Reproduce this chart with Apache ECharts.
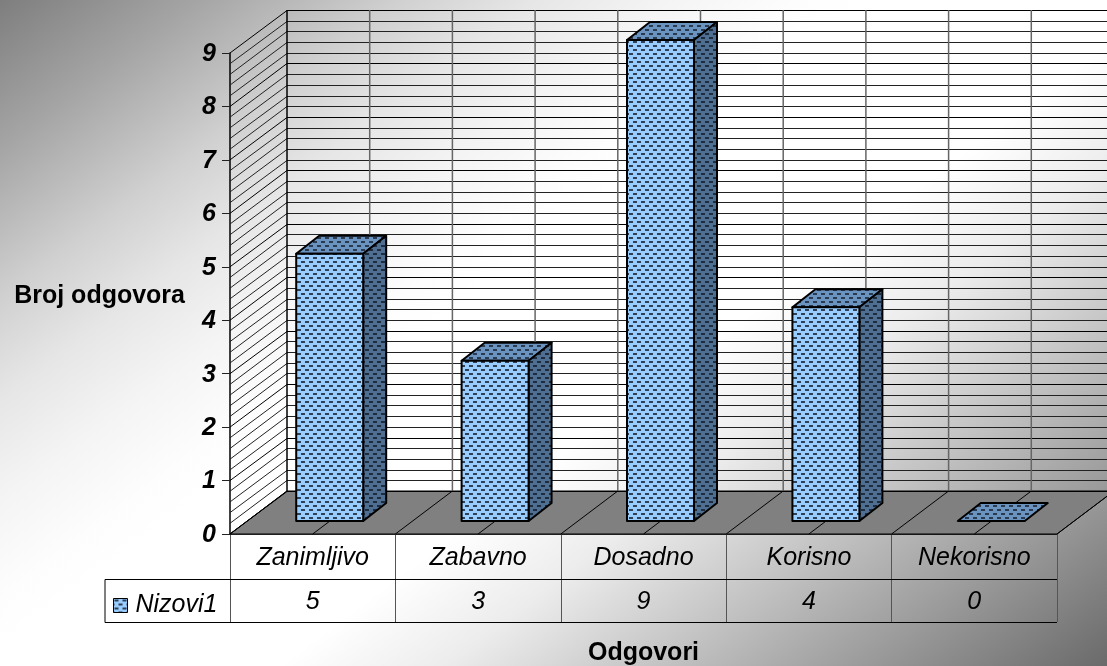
<!DOCTYPE html>
<html>
<head>
<meta charset="utf-8">
<style>html,body{margin:0;padding:0;background:#fff}#main{width:1107px;height:666px}</style>
<script src="https://cdn.jsdelivr.net/npm/echarts@6/dist/echarts.min.js"></script>
</head>
<body>
<div id="main"></div>
<script>
var categories = ['Zanimljivo', 'Zabavno', 'Dosadno', 'Korisno', 'Nekorisno'];
var seriesName = 'Nizovi1';
var seriesValues = [5, 3, 9, 4, 0];
var wallSteps = [0, 0.2, 0.4, 0.6, 0.8, 1, 1.2, 1.4, 1.6, 1.8, 2, 2.2, 2.4, 2.6, 2.8, 3, 3.2, 3.4, 3.6, 3.8, 4, 4.2, 4.4, 4.6, 4.8, 5, 5.2, 5.4, 5.6, 5.8, 6, 6.2, 6.4, 6.6, 6.8, 7, 7.2, 7.4, 7.6, 7.8, 8, 8.2, 8.4, 8.6, 8.8, 9];
var floorSteps = [0, 0.5, 1, 1.5, 2, 2.5, 3, 3.5, 4, 4.5, 5];

// depth of the fake 3d box, in px
var depthX = 57, depthY = -43;
var barFrontX = 17, barFrontY = -13, barBackX = 40, barBackY = -31;
var rowOne = 45, rowTwo = 88, legendLeft = 105;

function dots(bg, dot) {
	var c = document.createElement('canvas');
	c.width = 8; c.height = 8;
	var g = c.getContext('2d');
	g.fillStyle = bg;
	g.fillRect(0, 0, 8, 8);
	g.fillStyle = dot;
	g.fillRect(1, 1, 4, 2);
	g.fillRect(5, 5, 3, 2);
	g.fillRect(0, 5, 1, 2);
	return { image: c, repeat: 'repeat' };
}
var frontFill = dots('#99ccff', '#2f3f55');
var topFill = dots('#6b93c0', '#2a3a50');
var sideFill = dots('#4f6f92', '#1f2c3e');

function line(x1, y1, x2, y2, color, width) {
	return { type: 'line', shape: { x1: x1, y1: y1, x2: x2, y2: y2 }, style: { stroke: color, lineWidth: width } };
}
function poly(pts, fill) {
	return { type: 'polygon', shape: { points: pts }, style: { fill: fill, stroke: '#000', lineWidth: 2, lineJoin: 'round' } };
}
// left edge of the category band k (k can be a fraction), category axis rounds its values
function bandX(api, k) {
	return api.coord([0, 0])[0] + (k - 0.5) * api.size([1, 0])[0];
}

var myChart = echarts.init(document.getElementById('main'), null, { renderer: 'canvas' });
myChart.setOption({
	animation: false,
	backgroundColor: new echarts.graphic.LinearGradient(0, 0, 718, 958, [
		{ offset: 0, color: '#7e7e7e' },
		{ offset: 0.1, color: '#a5a5a5' },
		{ offset: 0.2, color: '#d0d0d0' },
		{ offset: 0.267, color: '#e6e6e6' },
		{ offset: 0.334, color: '#f4f4f4' },
		{ offset: 0.4, color: '#fdfdfd' },
		{ offset: 0.434, color: '#ffffff' },
		{ offset: 0.585, color: '#ffffff' },
		{ offset: 0.668, color: '#ececec' },
		{ offset: 0.782, color: '#c0c0c0' },
		{ offset: 1, color: '#6a6a6a' }
	], true),
	grid: { left: 230, right: 50, top: 53, bottom: 132, outerBoundsMode: 'none' },
	legend: {
		left: 108, top: 588, itemWidth: 14, itemHeight: 14, itemGap: 0,
		data: [{ name: seriesName, icon: 'rect', itemStyle: { color: frontFill, borderColor: '#000', borderWidth: 1 } }],
		textStyle: { fontFamily: 'Liberation Sans', fontStyle: 'italic', fontSize: 25, color: '#000', padding: [0, 0, 5, 3] }
	},
	xAxis: [{
		type: 'category',
		data: categories,
		name: 'Odgovori',
		nameLocation: 'middle',
		nameGap: 107,
		nameTextStyle: { fontFamily: 'Liberation Sans', fontWeight: 'bold', fontSize: 25, color: '#000' },
		axisLine: { lineStyle: { color: '#000', width: 1.5 } },
		axisTick: { show: true, length: rowTwo, lineStyle: { color: '#555', width: 1 } },
		axisLabel: { margin: 12, fontFamily: 'Liberation Sans', fontStyle: 'italic', fontSize: 25, color: '#000' }
	}, {
		type: 'category',
		position: 'bottom',
		offset: rowOne,
		data: seriesValues.map(String),
		axisLine: { show: false },
		axisTick: { show: false },
		axisLabel: { margin: 11, fontFamily: 'Liberation Sans', fontStyle: 'italic', fontSize: 25, color: '#000' }
	}],
	yAxis: {
		type: 'value',
		min: 0,
		max: 9,
		interval: 1,
		name: 'Broj odgovora',
		nameLocation: 'middle',
		nameRotate: 0,
		nameGap: 45,
		nameTextStyle: { fontFamily: 'Liberation Sans', fontWeight: 'bold', fontSize: 25, color: '#000', verticalAlign: 'top', lineHeight: 6 },
		axisLine: { show: true, lineStyle: { color: '#000', width: 1.5 } },
		axisTick: { show: true, length: 8, lineStyle: { color: '#222', width: 1 } },
		axisLabel: { margin: 14, verticalAlign: 'top', lineHeight: 2, fontFamily: 'Liberation Sans', fontStyle: 'italic', fontWeight: 'bold', fontSize: 25, color: '#000' },
		splitLine: { show: false }
	},
	series: [{
		// floor
		type: 'custom',
		silent: true,
		clip: false,
		z: 1,
		data: [[0, 0]],
		encode: { x: 0, y: 1 },
		renderItem: function (params, api) {
			var y = api.coord([0, 0])[1];
			var a = bandX(api, 0), b = bandX(api, 5);
			return {
				type: 'polygon',
				shape: { points: [[a, y], [a + depthX, y + depthY], [b + depthX, y + depthY], [b, y]] },
				style: { fill: '#808080', stroke: '#000', lineWidth: 1 }
			};
		}
	}, {
		// horizontal lines on the two walls
		type: 'custom',
		silent: true,
		clip: false,
		z: 2,
		data: wallSteps.map(function (v) { return [0, v]; }),
		encode: { x: 0, y: 1 },
		renderItem: function (params, api) {
			var v = api.value(1);
			var y = api.coord([0, v])[1];
			var a = bandX(api, 0), b = bandX(api, 5);
			var major = Math.abs(v - Math.round(v)) < 0.01;
			var yBack = Math.round(y + depthY) + 0.5;
			return {
				type: 'group',
				children: [
					line(a, y, a + depthX, yBack, major ? '#000' : '#222', 1),
					line(a + depthX, yBack, b + depthX, yBack, major ? '#000' : '#222', 1)
				]
			};
		}
	}, {
		// floor ticks and vertical lines on the back wall
		type: 'custom',
		silent: true,
		clip: false,
		z: 2,
		data: floorSteps.map(function (v) { return [0, v]; }),
		encode: { x: 0, y: 1 },
		renderItem: function (params, api) {
			var k = api.value(1);
			var x = bandX(api, k);
			var y0 = api.coord([0, 0])[1], y9 = api.coord([0, 9])[1];
			return {
				type: 'group',
				children: [
					line(x + depthX, y0 + depthY, x + depthX, y9 + depthY, k === 0 ? '#000' : '#666', 1.5),
					line(x, y0, x + depthX, y0 + depthY, '#000', 1)
				]
			};
		}
	}, {
		// table lines under the axis
		type: 'custom',
		silent: true,
		clip: false,
		z: 3,
		data: [[0, 0]],
		encode: { x: 0, y: 1 },
		renderItem: function (params, api) {
			var y = api.coord([0, 0])[1];
			var b = bandX(api, 5);
			var y1 = Math.round(y + rowOne) + 0.5;
			var y2 = Math.round(y + rowTwo) + 0.5;
			return {
				type: 'group',
				children: [
					line(legendLeft, y1, b, y1, '#000', 1),
					line(legendLeft, y2, b, y2, '#000', 1),
					line(legendLeft, y1, legendLeft, y2, '#000', 1)
				]
			};
		}
	}, {
		name: seriesName,
		type: 'custom',
		silent: true,
		clip: false,
		z: 4,
		itemStyle: { color: frontFill },
		data: seriesValues.map(function (v, i) { return [i, v]; }),
		encode: { x: 0, y: 1 },
		renderItem: function (params, api) {
			var p = api.coord([api.value(0), api.value(1)]);
			var o = api.coord([api.value(0), 0]);
			var w = api.size([1, 0])[0] * 0.405;
			var l = p[0] - w / 2 + barFrontX, r = p[0] + w / 2 + barFrontX;
			var top = p[1] + barFrontY, bot = o[1] + barFrontY;
			var dx = barBackX - barFrontX, dy = barBackY - barFrontY;
			var kids = [poly([[l, top], [r, top], [r + dx, top + dy], [l + dx, top + dy]], topFill)];
			if (api.value(1) !== 0) {
				kids.push(poly([[r, top], [r + dx, top + dy], [r + dx, bot + dy], [r, bot]], sideFill));
				kids.push(poly([[l, top], [r, top], [r, bot], [l, bot]], frontFill));
			}
			return { type: 'group', children: kids };
		}
	}]
});
</script>
</body>
</html>
